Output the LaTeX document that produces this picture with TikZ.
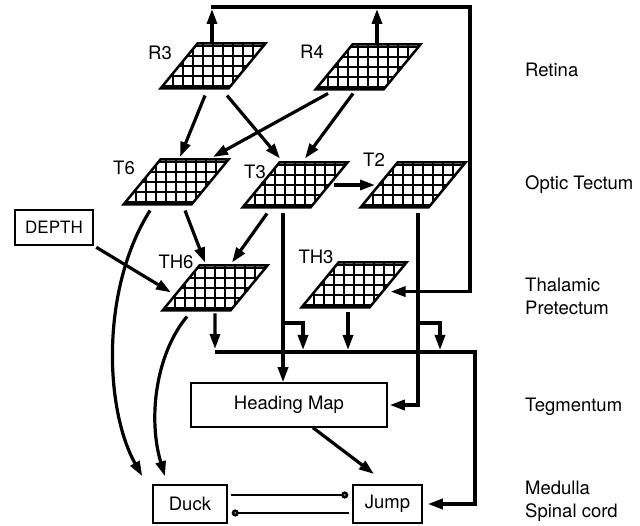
\documentclass[tikz,border=0pt]{standalone}
\usepackage{fontspec}
\setmainfont{TeX Gyre Heros}
\usetikzlibrary{shapes.geometric,arrows.meta,calc}
\tikzset{
  map/.style={trapezium,trapezium left angle=50.6,trapezium right angle=129.4,
    draw,line width=2.5pt,fill=white,inner xsep=15.5pt,inner ysep=22.5pt,outer sep=0pt,
    minimum width=0pt,minimum height=0pt,
    path picture={\draw[line width=1.6pt,step=10pt]
      (path picture bounding box.south west) grid (path picture bounding box.north east);}},
  box/.style={draw,line width=1.5pt,inner sep=0pt},
  arr/.style={line width=3.2pt,-{Triangle[length=15pt,width=10pt]}},
  inh/.style={line width=2.6pt,-{Circle[open,length=7pt,width=7pt]}},
  lbl/.style={inner sep=0pt}
}

\begin{document}
\begin{tikzpicture}[x=1pt,y=-1pt,font=\fontsize{18.5}{23}\selectfont,line join=miter]
  \useasboundingbox (0,0) rectangle (640,526);
  \foreach \n/\x/\y/\lx/\ly in {R3/213/66/160/53,R4/368/67/312/52,T6/176/182/124/168,
      T3/295/185/255/172,T2/413/185/374/160,TH6/215/288/176/262,TH3/354/285/316/257}{
     \node[map] (\n) at (\x,\y) {};
     \node[lbl] (\n-l) at (\lx,\ly) {\n};
  }
  \node[box,minimum width=78pt,minimum height=35pt,font=\fontsize{17}{20}\selectfont] (depth) at (54,227.5) {DEPTH};
  \node[box,minimum width=196pt,minimum height=44pt] (hmap) at (289,405) {Heading Map};
  \node[box,minimum width=74pt,minimum height=38pt] (duck) at (190,504) {Duck};
  \node[box,minimum width=69pt,minimum height=38pt] (jump) at (387.5,504) {Jump};

  \foreach \t/\y in {Retina/70,Optic Tectum/185,Tegmentum/407}
     \node[lbl,anchor=west] (\t) at (525,\y) {\t};
  \node[lbl,anchor=west,align=left] (thal) at (525,296) {Thalamic\\Pretectum};
  \node[lbl,anchor=west,align=left] (medulla) at (525,501) {Medulla\\Spinal cord};

  \coordinate (fbL) at (211,7);
  \coordinate (fbR) at (470,7);
  \coordinate (busL) at (215,352);
  \coordinate (busR) at (475,352);

  % retina feedback
  \draw[arr,shorten >=8pt] (fbL) -- (fbR) |- (TH3.-13);
  \draw[arr] ($(R3.top side)+(-19.5,-1)$) coordinate (r3o) -- ($(r3o |- fbL)+(0,2)$);
  \draw[arr] ($(R4.top side)+(-9.5,-1)$) coordinate (r4o) -- ($(r4o |- fbL)+(0,2)$);

  \draw[arr] ($(R3.bottom side)+(10.5,7)$) -- ($(T6.top side)+(-14.5,-2.5)$);
  \draw[arr] ($(R3.bottom side)+(32.5,7)$) -- ($(T3.top side)+(-33.5,-4)$);
  \draw[arr] ($(R4.bottom side)+(-21.5,4)$) -- ($(T6.top side)+(18.5,-2.5)$);
  \draw[arr] ($(R4.bottom side)+(3.5,4)$) -- ($(T3.top side)+(-8.5,-4)$);
  \draw[arr,shorten <=5pt,shorten >=4pt] (T3.0) -- (T2.180);
  \draw[arr] ($(T6.bottom side)+(27.5,6)$) -- ($(TH6.top side)+(-28.5,-3)$);
  \draw[arr] ($(T3.bottom side)+(-9.5,6)$) -- ($(TH6.top side)+(-1.5,-3)$);
  \draw[arr,shorten <=3pt,shorten >=5pt] (depth.south east) -- (TH6.190);

  \draw[arr] ($(T6.bottom side)+(-7.5,6)$) .. controls (100,290) and (105,410) .. ($(duck.north west)+(-10,-8)$);
  \draw[arr] ($(TH6.bottom side)+(-9.5,6)$) .. controls (155,355) and (148,420) .. ($(duck.north)+(-25,-8)$);

  % tectal and pretectal outputs
  \draw[arr] ($(T3.bottom side)+(6.5,6)$) coordinate (t3o) -- (t3o |- hmap.north);
  \draw[arr,shorten >=2pt] ($(T2.bottom side)+(23.5,6)$) coordinate (t2o) |- (hmap.east);
  \draw[arr] ($(t3o |- busL)+(0,-29)$) -| ($(t3o |- busL)+(20,-2)$);
  \draw[arr] ($(t2o |- busL)+(0,-29)$) -| ($(t2o |- busL)+(22,-2)$);
  \draw[arr,shorten >=2pt] ($(TH3.bottom side)+(12.5,5)$) coordinate (th3o) -- (th3o |- busL);
  \draw[arr,shorten >=3pt] ($(TH6.bottom side)+(18.5,3)$) -- (busL);
  \draw[arr,shorten >=5pt] (busL) -- (busR) |- (jump.east);

  \draw[arr,shorten >=17pt] ($(hmap.south)+(24,0)$) -- (jump.north);
  \draw[inh] ($(duck.east)+(3,-9)$) -- ($(jump.west)+(-4,-9)$);
  \draw[inh] ($(jump.west)+(-3,9)$) -- ($(duck.east)+(4,9)$);
\end{tikzpicture}
\end{document}
